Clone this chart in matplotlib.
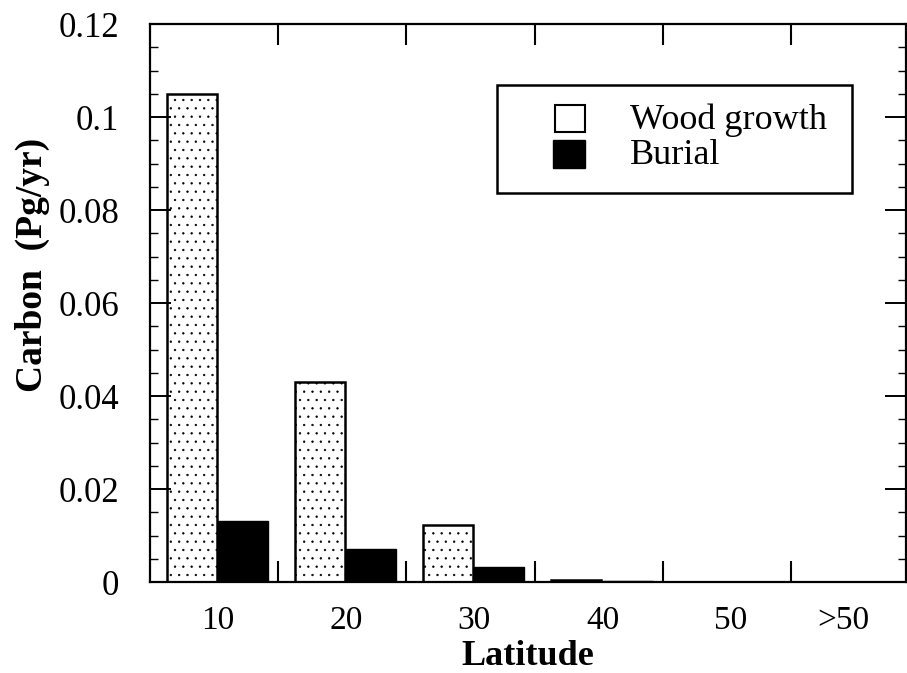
import matplotlib
matplotlib.use("Agg")
import matplotlib.pyplot as plt
from matplotlib.ticker import MultipleLocator, FixedLocator
from matplotlib.patches import Rectangle
import numpy as np

# Carbon flux by latitude band
latitude_labels = ["10", "20", "30", "40", "50", ">50"]
wood_growth = [0.105, 0.043, 0.0123, 0.0004, 0.0, 0.0]
burial = [0.0131, 0.0071, 0.0032, 0.0003, 0.0, 0.0]
y_tick_values = [0, 0.02, 0.04, 0.06, 0.08, 0.1, 0.12]
y_tick_labels = ["0", "0.02", "0.04", "0.06", "0.08", "0.1", "0.12"]
series_names = ["Wood growth", "Burial"]

plt.rcParams["font.family"] = ["Liberation Serif", "DejaVu Serif"]
plt.rcParams["hatch.color"] = "#b5b5b5"
plt.rcParams["hatch.linewidth"] = 0.45

fig = plt.figure(figsize=(9.07, 6.73), dpi=100)
ax = fig.add_axes([0.1654, 0.1352, 0.834, 0.829])

idx = np.arange(len(latitude_labels))
width = 0.39
ax.bar(idx + 0.325, wood_growth, width, facecolor="white",
       edgecolor="black", linewidth=1.8, hatch="..")
ax.bar(idx + 0.725, burial, width, facecolor="black",
       edgecolor="black", linewidth=1.0)

ax.set_xlim(0, 5.9)
ax.set_ylim(0, 0.12)

# group labels at band centres, tick marks at band boundaries
label_pos = idx + 0.53
label_pos[-1] -= 0.12
ax.set_xticks(label_pos)
ax.set_xticklabels(latitude_labels, fontsize=24)
ax.tick_params(axis="x", which="major", length=0, pad=17)
ax.xaxis.set_minor_locator(FixedLocator(idx[1:] + 0.0))
ax.tick_params(axis="x", which="minor", direction="in", length=15, width=1.5,
               top=True, bottom=True)

ax.set_yticks(y_tick_values)
ax.set_yticklabels(y_tick_labels, fontsize=25)
ax.yaxis.set_minor_locator(MultipleLocator(0.005))
ax.tick_params(axis="y", which="major", direction="in", length=15, width=1.4,
               left=True, right=True, pad=22)
ax.tick_params(axis="y", which="minor", direction="in", length=6, width=1.0,
               left=True, right=True)

for side in ["left", "right", "top", "bottom"]:
    ax.spines[side].set_linewidth(1.6)

ax.set_ylabel("Carbon  (Pg/yr)", fontsize=27, fontweight="bold")
ax.yaxis.set_label_coords(-0.156, 0.568)
ax.yaxis.label.set_va("center")
ax.set_xlabel("Latitude", fontsize=26, fontweight="bold")
ax.xaxis.set_label_coords(0.4987, -0.133)
ax.xaxis.label.set_va("center")

# legend box
tr = ax.transAxes
ax.add_patch(Rectangle((0.459, 0.697), 0.4696, 0.1937, transform=tr,
                       facecolor="white", edgecolor="black", linewidth=1.8,
                       zorder=5))
ax.add_patch(Rectangle((0.5357, 0.8065), 0.0397, 0.0483, transform=tr,
                       facecolor="white", edgecolor="black", linewidth=1.5,
                       zorder=6))
ax.add_patch(Rectangle((0.5330, 0.742), 0.0424, 0.050, transform=tr,
                       facecolor="black", edgecolor="black", linewidth=1.0,
                       zorder=6))
ax.text(0.635, 0.828, series_names[0], transform=tr, fontsize=26,
        ha="left", va="center", zorder=7)
ax.text(0.635, 0.765, series_names[1], transform=tr, fontsize=26,
        ha="left", va="center", zorder=7)

fig.savefig("out.png", dpi=100)
